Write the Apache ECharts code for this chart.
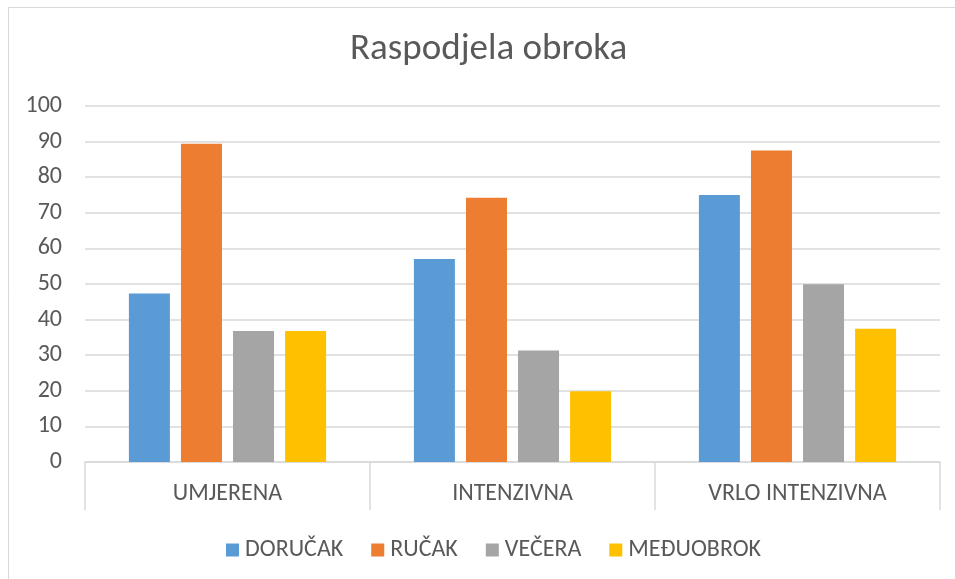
<!DOCTYPE html>
<html>
<head>
<meta charset="utf-8">
<script src="https://cdn.jsdelivr.net/npm/echarts@6/dist/echarts.min.js"></script>
<style>
	html, body { margin: 0; padding: 0; background: #fff; }
	#main { width: 955px; height: 579px; }
</style>
</head>
<body>
<div id="main"></div>
<script>
	var categories = ['UMJERENA', 'INTENZIVNA', 'VRLO INTENZIVNA'];
	var seriesNames = ['DORUČAK', 'RUČAK', 'VEČERA', 'MEĐUOBROK'];
	var dorucak = [47.3, 57.0, 75.0];
	var rucak = [89.4, 74.2, 87.5];
	var vecera = [36.8, 31.3, 49.9];
	var meduobrok = [36.8, 19.9, 37.4];
	var colors = ['#5b9bd5', '#ed7d31', '#a5a5a5', '#ffc000'];

	var dom = document.getElementById('main');
	var myChart = echarts.init(dom);
	var font = 'Carlito, "Open Sans", sans-serif';
	var values = [dorucak, rucak, vecera, meduobrok];
	var series = [];
	for (var i = 0; i < seriesNames.length; i++) {
		series.push({
			name : seriesNames[i],
			type : 'bar',
			data : values[i],
			barWidth : 41,
			barGap : '27%',
			itemStyle : { color : colors[i] }
		});
	}

	var option = {
		color : colors,
		animation : false,
		title : {
			text : 'Raspodjela obroka',
			left : 350,
			top : 31,
			padding : 0,
			textStyle : {
				fontFamily : font,
				fontSize : 37,
				fontWeight : 'normal',
				color : '#595959'
			}
		},
		legend : {
			data : seriesNames,
			bottom : 17,
			left : 226,
			padding : 0,
			itemWidth : 13,
			itemHeight : 13,
			itemGap : 28,
			icon : 'rect',
			textStyle : {
				fontFamily : font,
				fontSize : 24,
				color : '#595959',
				padding : [0, 0, 0, 1]
			}
		},
		grid : {
			left : 85,
			right : 15,
			top : 106,
			bottom : 117
		},
		xAxis : {
			type : 'category',
			data : categories,
			axisLine : { lineStyle : { color : '#d9d9d9', width : 1.5 } },
			axisTick : { show : true, length : 48, lineStyle : { color : '#d9d9d9', width : 1.5 } },
			axisLabel : {
				margin : 20,
				fontFamily : font,
				fontSize : 24,
				color : '#595959'
			}
		},
		yAxis : {
			type : 'value',
			min : 0,
			max : 100,
			interval : 10,
			axisLine : { show : false },
			axisTick : { show : false },
			splitLine : { lineStyle : { color : '#d9d9d9', width : 1.5 } },
			axisLabel : {
				margin : 23,
				fontFamily : font,
				fontSize : 24,
				color : '#595959'
			}
		},
		graphic : [{
			type : 'rect',
			shape : { x : 8.5, y : 7.5, width : 960, height : 600 },
			style : { fill : 'none', stroke : '#d9d9d9', lineWidth : 1 },
			silent : true
		}],
		series : series
	};

	myChart.setOption(option, true);
</script>
</body>
</html>
